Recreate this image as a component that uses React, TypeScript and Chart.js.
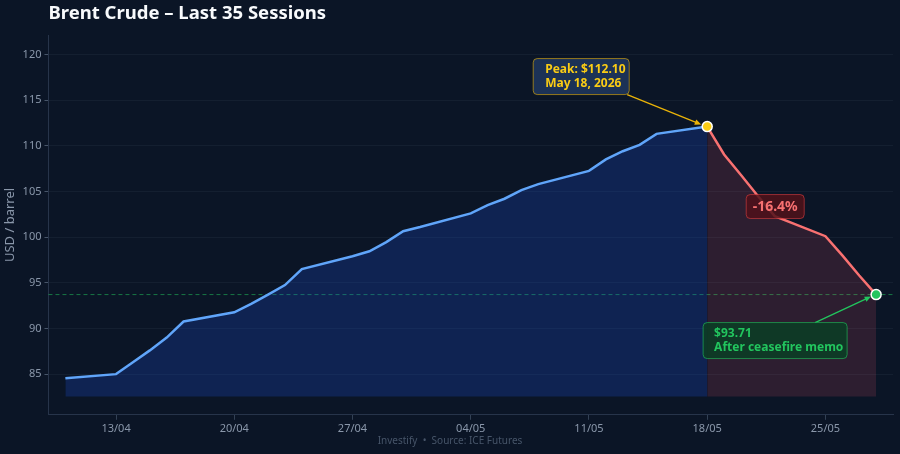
import React, { useEffect, useRef } from 'react';
import { Chart, registerables } from 'chart.js';

Chart.register(...registerables);

const FONT = "'Noto Sans', 'DejaVu Sans', sans-serif";
const BG = '#0b1526';

// 35 trading sessions, Brent front-month close (USD/bbl)
const sessionDates = [
  '2026-04-10',
  '2026-04-13', '2026-04-14', '2026-04-15', '2026-04-16', '2026-04-17',
  '2026-04-20', '2026-04-21', '2026-04-22', '2026-04-23', '2026-04-24',
  '2026-04-27', '2026-04-28', '2026-04-29', '2026-04-30', '2026-05-01',
  '2026-05-04', '2026-05-05', '2026-05-06', '2026-05-07', '2026-05-08',
  '2026-05-11', '2026-05-12', '2026-05-13', '2026-05-14', '2026-05-15',
  '2026-05-18', '2026-05-19', '2026-05-20', '2026-05-21', '2026-05-22',
  '2026-05-25', '2026-05-26', '2026-05-27', '2026-05-28',
];
const closePrices = [
  84.55,
  85.0, 86.3, 87.6, 89.0, 90.76,
  91.77, 92.7, 93.7, 94.75, 96.5,
  97.9, 98.45, 99.45, 100.65, 101.1,
  102.6, 103.5, 104.2, 105.15, 105.8,
  107.25, 108.5, 109.4, 110.1, 111.3,
  112.1, 109.05, 106.8, 104.5, 102.3,
  100.1, 98.0, 95.8, 93.71,
];

const xTickDates = ['2026-04-13', '2026-04-20', '2026-04-27', '2026-05-04', '2026-05-11', '2026-05-18', '2026-05-25'];
const xTickLabels = ['13/04', '20/04', '27/04', '04/05', '11/05', '18/05', '25/05'];
const yTickValues = [85, 90, 95, 100, 105, 110, 115, 120];

const peakLines = ['Peak: $112.10', 'May 18, 2026'];
const endLines = ['$93.71', 'After ceasefire memo'];
const dropLabel = '-16.4%';

const DAY = 86400000;
const dayOf = (iso: string) => (Date.parse(iso) - Date.parse('2026-04-13')) / DAY;

const peakIndex = closePrices.indexOf(Math.max(...closePrices));
const lastIndex = closePrices.length - 1;
const points = sessionDates.map((d, i) => ({ x: dayOf(d), y: closePrices[i] }));
const fillBase = Math.min(...closePrices) - 2;

function arrow(ctx: CanvasRenderingContext2D, x1: number, y1: number, x2: number, y2: number, color: string) {
  const a = Math.atan2(y2 - y1, x2 - x1);
  ctx.save();
  ctx.strokeStyle = color;
  ctx.fillStyle = color;
  ctx.lineWidth = 1.3;
  ctx.beginPath();
  ctx.moveTo(x1, y1);
  ctx.lineTo(x2 - 5 * Math.cos(a), y2 - 5 * Math.sin(a));
  ctx.stroke();
  ctx.beginPath();
  ctx.moveTo(x2, y2);
  ctx.lineTo(x2 - 7 * Math.cos(a - 0.4), y2 - 7 * Math.sin(a - 0.4));
  ctx.lineTo(x2 - 7 * Math.cos(a + 0.4), y2 - 7 * Math.sin(a + 0.4));
  ctx.closePath();
  ctx.fill();
  ctx.restore();
}

function box(ctx: CanvasRenderingContext2D, x: number, y: number, w: number, h: number, fill: string, stroke: string) {
  ctx.save();
  ctx.beginPath();
  ctx.roundRect(x, y, w, h, 4);
  ctx.fillStyle = fill;
  ctx.fill();
  ctx.strokeStyle = stroke;
  ctx.lineWidth = 1;
  ctx.stroke();
  ctx.restore();
}

const calloutPlugin = {
  id: 'callouts',
  beforeDatasetsDraw(chart: any) {
    const { ctx, chartArea, scales } = chart;
    const yy = scales.y.getPixelForValue(closePrices[lastIndex]);
    ctx.save();
    ctx.strokeStyle = 'rgba(34,197,94,0.55)';
    ctx.lineWidth = 1;
    ctx.setLineDash([4, 3]);
    ctx.beginPath();
    ctx.moveTo(chartArea.left, yy);
    ctx.lineTo(chartArea.right, yy);
    ctx.stroke();
    ctx.restore();
  },
  afterDatasetsDraw(chart: any) {
    const { ctx, scales } = chart;
    const px = scales.x.getPixelForValue(points[peakIndex].x);
    const py = scales.y.getPixelForValue(points[peakIndex].y);
    const ex = scales.x.getPixelForValue(points[lastIndex].x);
    const ey = scales.y.getPixelForValue(points[lastIndex].y);

    // peak callout
    const bx = px - 174, by = py - 68;
    arrow(ctx, bx + 94, by + 36, px - 6, py - 2, '#eab308');
    box(ctx, bx, by, 96, 36, 'rgba(30,52,88,0.95)', 'rgba(234,179,8,0.6)');
    ctx.save();
    ctx.font = `bold 12px ${FONT}`;
    ctx.fillStyle = '#facc15';
    ctx.textBaseline = 'middle';
    ctx.fillText(peakLines[0], bx + 12, by + 11);
    ctx.fillText(peakLines[1], bx + 12, by + 25);
    ctx.restore();

    // drop label
    const dx = px + 68, dy = py + 80;
    box(ctx, dx - 29, dy - 12, 58, 24, 'rgba(80,18,26,0.85)', 'rgba(239,68,68,0.55)');
    ctx.save();
    ctx.font = `bold 14px ${FONT}`;
    ctx.fillStyle = '#f87171';
    ctx.textAlign = 'center';
    ctx.textBaseline = 'middle';
    ctx.fillText(dropLabel, dx, dy);
    ctx.restore();

    // end callout
    const cx = ex - 173, cy = ey + 28;
    arrow(ctx, cx + 112, cy, ex - 5, ey + 2, '#22c55e');
    box(ctx, cx, cy, 144, 36, 'rgba(14,60,38,0.92)', 'rgba(34,197,94,0.6)');
    ctx.save();
    ctx.font = `bold 12px ${FONT}`;
    ctx.fillStyle = '#22c55e';
    ctx.textBaseline = 'middle';
    ctx.fillText(endLines[0], cx + 11, cy + 11);
    ctx.fillText(endLines[1], cx + 11, cy + 25);
    ctx.restore();
  },
  afterDraw(chart: any) {
    const { ctx, width } = chart;
    ctx.save();
    ctx.font = `10px ${FONT}`;
    ctx.fillStyle = '#475569';
    ctx.textAlign = 'center';
    ctx.textBaseline = 'middle';
    ctx.fillText('Investify  •  Source: ICE Futures', width / 2, 441);
    ctx.restore();
  },
};

export default function App() {
  const canvasRef = useRef<HTMLCanvasElement>(null);

  useEffect(() => {
    document.body.style.margin = '0';
    document.body.style.background = BG;
    if (!canvasRef.current) return;
    const ctx = canvasRef.current.getContext('2d');
    if (!ctx) return;

    const chart = new Chart(ctx, {
      type: 'line',
      data: {
        datasets: [
          {
            label: 'markers',
            data: [points[peakIndex], points[lastIndex]],
            showLine: false,
            pointRadius: 5,
            pointBorderWidth: 1.5,
            pointBorderColor: '#ffffff',
            pointBackgroundColor: ['#facc15', '#22c55e'],
            order: 0,
          },
          {
            label: 'rally',
            data: points.slice(0, peakIndex + 1),
            borderColor: '#60a5fa',
            borderWidth: 2.5,
            backgroundColor: 'rgba(29,78,216,0.25)',
            fill: { value: fillBase },
            pointRadius: 0,
            tension: 0,
            order: 1,
          },
          {
            label: 'drop',
            data: points.slice(peakIndex),
            borderColor: '#f87171',
            borderWidth: 2.5,
            backgroundColor: 'rgba(244,90,110,0.15)',
            fill: { value: fillBase },
            pointRadius: 0,
            tension: 0,
            order: 2,
          },
        ],
      },
      options: {
        responsive: false,
        animation: false,
        layout: { padding: { left: 2, right: 7, top: 0, bottom: 17 } },
        scales: {
          x: {
            type: 'linear',
            min: dayOf(sessionDates[0]) - 1,
            max: dayOf(sessionDates[lastIndex]) + 1,
            afterBuildTicks: (scale: any) => {
              scale.ticks = xTickDates.map(d => ({ value: dayOf(d) }));
            },
            ticks: {
              color: '#8a97aa',
              font: { size: 11, family: FONT },
              padding: 2,
              maxRotation: 0,
              callback: (_v: any, i: number) => xTickLabels[i],
            },
            grid: { drawOnChartArea: false, tickLength: 5, tickColor: '#334155' },
            border: { color: '#27344a' },
          },
          y: {
            min: Math.min(...closePrices) - 4,
            max: Math.max(...closePrices) + 10,
            afterBuildTicks: (scale: any) => {
              scale.ticks = yTickValues.map(v => ({ value: v }));
            },
            ticks: { color: '#8a97aa', font: { size: 11, family: FONT }, padding: 3 },
            grid: { color: 'rgba(148,163,184,0.07)', tickLength: 4, tickColor: '#475569' },
            border: { color: '#27344a' },
            title: {
              display: true,
              text: 'USD / barrel',
              color: '#8a97aa',
              font: { size: 13, family: FONT },
              padding: { top: 0, bottom: 2 },
            },
          },
        },
        plugins: {
          legend: { display: false },
          tooltip: { enabled: false },
          title: {
            display: true,
            text: 'Brent Crude – Last 35 Sessions',
            align: 'start',
            fullSize: false,
            color: '#f8fafc',
            font: { size: 18.5, weight: 'bold', family: FONT },
            padding: { top: 3, bottom: 10 },
          },
        },
      },
      plugins: [calloutPlugin],
    } as any);

    return () => chart.destroy();
  }, []);

  return (
    <div style={{ width: 900, height: 454, background: BG }}>
      <canvas ref={canvasRef} width={900} height={454} />
    </div>
  );
}
